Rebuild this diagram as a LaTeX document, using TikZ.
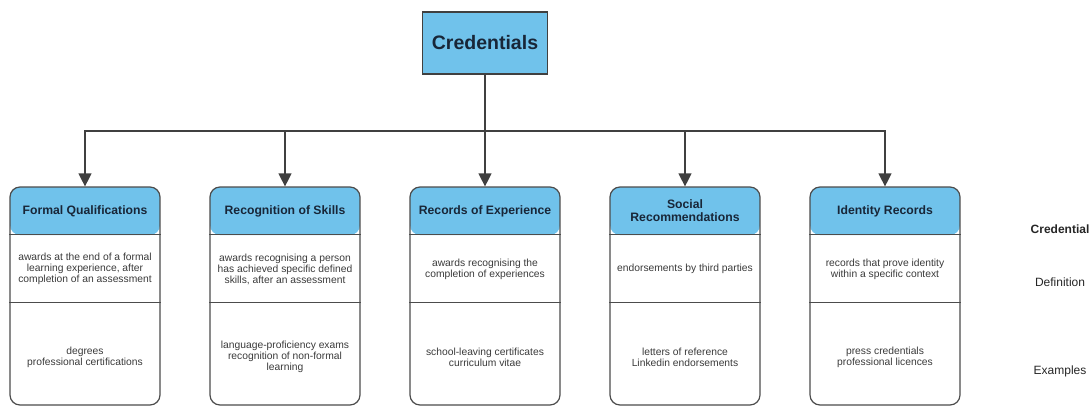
\documentclass[tikz,border=0pt]{standalone}
\usepackage{fontspec}
\setmainfont{Liberation Sans}
\usetikzlibrary{arrows.meta}
\definecolor{headblue}{RGB}{112,194,235}
\definecolor{inkblue}{RGB}{24,38,56}
\definecolor{bodygray}{RGB}{58,58,58}

\begin{document}
\begin{tikzpicture}[x=1pt,y=-1pt,line width=1.2pt]
	\def \titlelevel{43}
	\def \buslevel{131}
	\def \boxlevel{296}
	\def \headlevel{211}
	\def \deflevel{269}
	\def \exlevel{357}
	\def \labelx{1060}
	\tikzstyle{t-node}=[rectangle,draw=black!75,fill=headblue,minimum width=125pt,minimum height=62pt,font=\fontsize{19.5}{22}\selectfont\bfseries,text=inkblue]
	\tikzstyle{c-node}=[rectangle,rounded corners=10pt,draw=black!70,minimum width=150pt,minimum height=218pt,
		path picture={\fill[headblue] (path picture bounding box.north west) rectangle ([yshift=-48pt]path picture bounding box.north east);}]
	\tikzstyle{h-text}=[align=center,font=\fontsize{12.2}{13}\selectfont\bfseries,text=inkblue]
	\tikzstyle{b-text}=[align=center,font=\fontsize{10.3}{11}\selectfont,text=bodygray]
	\tikzstyle{annot}=[align=center,font=\fontsize{12}{14}\selectfont,text=black!85]
	\tikzstyle{div}=[draw=black!70]
	\tikzstyle{wire}=[draw=black!75]
	\tikzstyle{arr}=[wire,-{Triangle[width=13pt,length=13pt]}]
	\useasboundingbox (0,0) rectangle (1091,407);

	% title
	\node[t-node] 	(cred)	at (485,\titlelevel)	{Credentials};

	% columns
	\node[c-node] 	(c1)	at (85,\boxlevel)	{};
	\node[c-node] 	(c2)	at (285,\boxlevel)	{};
	\node[c-node] 	(c3)	at (485,\boxlevel)	{};
	\node[c-node] 	(c4)	at (685,\boxlevel)	{};
	\node[c-node] 	(c5)	at (885,\boxlevel)	{};

	\foreach \c in {c1,c2,c3,c4,c5} {
		\draw[div] ([yshift=-48pt]\c.north west) -- ([yshift=-48pt]\c.north east);
		\draw[div] ([yshift=-116pt]\c.north west) -- ([yshift=-116pt]\c.north east);
	}

	% headers
	\node[h-text] 	(h1)	at (85,\headlevel)	{Formal Qualifications};
	\node[h-text] 	(h2)	at (285,\headlevel)	{Recognition of Skills};
	\node[h-text] 	(h3)	at (485,\headlevel)	{Records of Experience};
	\node[h-text] 	(h4)	at (685,\headlevel)	{Social\\Recommendations};
	\node[h-text] 	(h5)	at (885,\headlevel)	{Identity Records};

	% definitions
	\node[b-text] 	(d1)	at (85,\deflevel)	{awards at the end of a formal\\learning experience, after\\completion of an assessment};
	\node[b-text] 	(d2)	at (285,\deflevel)	{awards recognising a person\\has achieved specific defined\\skills, after an assessment};
	\node[b-text] 	(d3)	at (485,\deflevel)	{awards recognising the\\completion of experiences};
	\node[b-text] 	(d4)	at (685,\deflevel)	{endorsements by third parties};
	\node[b-text] 	(d5)	at (885,\deflevel)	{records that prove identity\\within a specific context};

	% examples
	\node[b-text] 	(e1)	at (85,\exlevel)	{degrees\\professional certifications};
	\node[b-text] 	(e2)	at (285,\exlevel)	{language-proficiency exams\\recognition of non-formal\\learning};
	\node[b-text] 	(e3)	at (485,\exlevel)	{school-leaving certificates\\curriculum vitae};
	\node[b-text] 	(e4)	at (685,\exlevel)	{letters of reference\\Linkedin endorsements};
	\node[b-text] 	(e5)	at (885,\exlevel)	{press credentials\\professional licences};

	% labels
	\node[annot,font=\fontsize{12}{14}\selectfont\bfseries] 	(l-cred)	at (\labelx,229)	{Credential};
	\node[annot] 	(l-def)	at (\labelx,282)	{Definition};
	\node[annot] 	(l-ex)	at (\labelx,371)	{Examples};

	% connectors
	\coordinate (bus) at (485,\buslevel);
	\draw[wire] (cred.south) -- (bus);
	\draw[arr] (bus) -| (c1.north);
	\draw[arr] (bus) -| (c2.north);
	\draw[arr] (bus) -- (c3.north);
	\draw[arr] (bus) -| (c4.north);
	\draw[arr] (bus) -| (c5.north);

\end{tikzpicture}
\end{document}
